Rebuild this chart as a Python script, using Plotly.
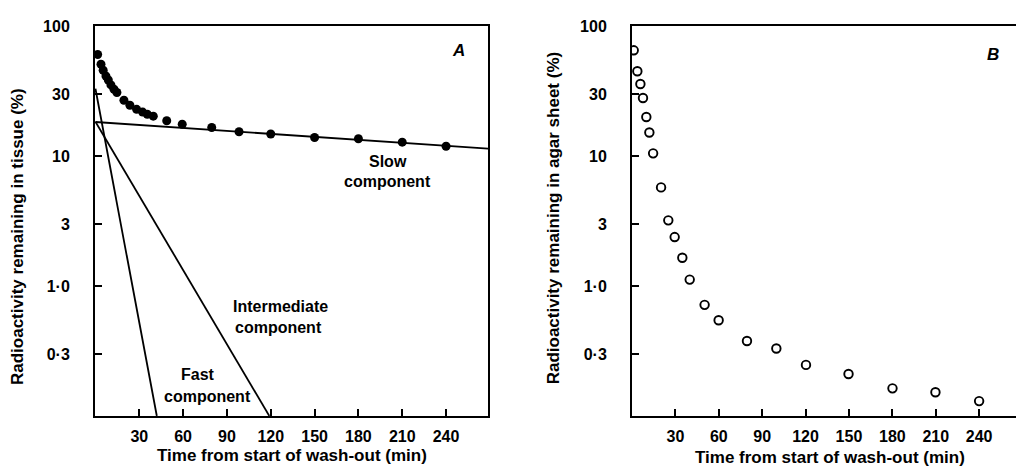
import plotly.graph_objects as go

# ---------------- data ----------------
# Panel A: tissue (filled circles)
time_a = [1.5, 3.8, 5.3, 7.2, 8.8, 10.6, 12.7, 14.7, 19.5, 23.6, 28.2, 32.3, 35.5, 39.6,
          48.8, 59.4, 79.6, 98.3, 120, 150, 180, 210, 240]
tissue_a = [60.6, 50.9, 45.8, 41.3, 38.5, 35.3, 32.7, 30.9, 26.9, 24.6, 22.9, 21.8, 21.0, 20.3,
            18.7, 17.6, 16.6, 15.4, 14.8, 13.9, 13.6, 12.8, 11.9]

# fitted components (end points of the straight lines on the log scale)
fast_t = [0, 42]
fast_v = [33, 0.1]
inter_t = [0, 119]
inter_v = [18.4, 0.1]
slow_t = [0, 270]
slow_v = [18.3, 11.4]

# Panel B: agar sheet (open circles)
time_b = [1.2, 3.7, 5.8, 7.6, 9.9, 12, 14.6, 20.1, 25.1, 29.5, 34.8, 39.9, 50.2, 59.9,
          79.5, 99.8, 120.3, 149.7, 180.1, 209.8, 240]
agar_b = [65.2, 45, 35.9, 28, 20, 15.2, 10.5, 5.74, 3.2, 2.38, 1.65, 1.12, 0.716, 0.545,
          0.377, 0.33, 0.247, 0.21, 0.163, 0.152, 0.13]

x_ticks = [30, 60, 90, 120, 150, 180, 210, 240]
y_ticks = [100, 30, 10, 3, 1, 0.3]
y_ticktext = ["100", "30", "10", "3", "1·0", "0·3"]

x_title = "Time from start of wash-out (min)"
y_title_a = "Radioactivity remaining in tissue (%)"
y_title_b = "Radioactivity remaining in agar sheet (%)"

# ---------------- figure ----------------
W, H = 1016, 468
FONT = "Liberation Sans, Arial, sans-serif"

fig = go.Figure()

line_style = dict(color="black", width=1.8)
fig.add_trace(go.Scatter(x=fast_t, y=fast_v, mode="lines", line=line_style,
                         xaxis="x", yaxis="y", showlegend=False, hoverinfo="skip"))
fig.add_trace(go.Scatter(x=inter_t, y=inter_v, mode="lines", line=line_style,
                         xaxis="x", yaxis="y", showlegend=False, hoverinfo="skip"))
fig.add_trace(go.Scatter(x=slow_t, y=slow_v, mode="lines", line=line_style,
                         xaxis="x", yaxis="y", showlegend=False, hoverinfo="skip"))
fig.add_trace(go.Scatter(x=time_a, y=tissue_a, mode="markers",
                         marker=dict(color="black", size=9, line=dict(width=0)),
                         xaxis="x", yaxis="y", showlegend=False))
fig.add_trace(go.Scatter(x=time_b, y=agar_b, mode="markers",
                         marker=dict(color="white", size=8.5, line=dict(color="black", width=1.9)),
                         xaxis="x2", yaxis="y2", showlegend=False))

y_dom = [(H - 415) / H, (H - 18.5) / H]

tick_font = dict(family=FONT, size=16, color="black", weight="bold")
common_x = dict(showline=True, linewidth=2, linecolor="black", ticks="inside", ticklen=7,
                tickwidth=1.6, tickcolor="black", tickvals=x_ticks, showgrid=False,
                zeroline=False, tickfont=tick_font, ticklabelstandoff=5)
common_y = dict(type="log", range=[-1, 2], domain=y_dom, showline=True, linewidth=2,
                linecolor="black", ticks="inside", ticklen=7, tickwidth=1.6, tickcolor="black",
                tickvals=y_ticks, ticktext=y_ticktext, showgrid=False, zeroline=False,
                tickfont=tick_font, ticklabelstandoff=20)

fig.update_layout(
    width=W, height=H,
    margin=dict(l=0, r=0, t=0, b=0),
    paper_bgcolor="white", plot_bgcolor="white",
    font=dict(family=FONT, color="black"),
    xaxis=dict(domain=[95 / W, 488 / W], range=[-0.3, 268.7], mirror=True, anchor="y", **common_x),
    yaxis=dict(anchor="x", mirror=True, **common_y),
    xaxis2=dict(domain=[632 / W, 1.0], range=[0, 265.5], mirror=True, anchor="y2", **common_x),
    yaxis2=dict(anchor="x2", mirror=False, **common_y),
)

def ann(text, px, py, size=16, **kw):
    fig.add_annotation(text=text, x=px / W, y=1 - py / H, xref="paper", yref="paper",
                       showarrow=False, xanchor="center", yanchor="middle",
                       font=dict(family=FONT, size=size, color="black", weight="bold"), **kw)

ann(x_title, 292, 455, size=17)
ann(x_title, 830, 457, size=17)
ann(y_title_a, 17, 233, size=17, textangle=-90)
ann(y_title_b, 553, 214, size=17, textangle=-90)
ann("Slow", 388, 156)
ann("component", 387, 177)
ann("Intermediate", 280, 304)
ann("component", 278, 325)
ann("Fast", 198, 373)
ann("component", 207, 395)
ann("<i>A</i>", 458, 43, size=17)
ann("<i>B</i>", 993, 47, size=17)

fig.write_html("out.html", config={"displayModeBar": False},
               post_script="document.body.style.margin='0';")
